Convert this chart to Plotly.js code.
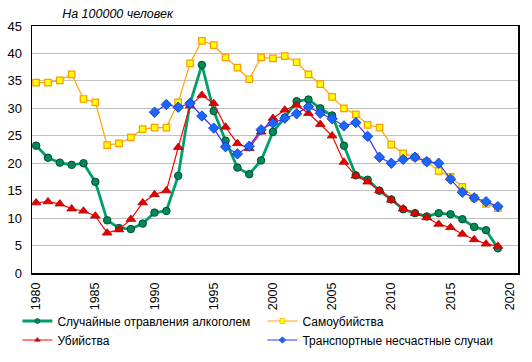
<!DOCTYPE html>
<html>
<head>
<meta charset="utf-8">
<script src="https://cdn.plot.ly/plotly-3.0.1.min.js"></script>
<style>html,body{margin:0;padding:0;background:#fff;}#chart{width:532px;height:362px;}</style>
</head>
<body>
<div id="chart"></div>
<script>
const yearsAll = [1980,1981,1982,1983,1984,1985,1986,1987,1988,1989,1990,1991,1992,1993,1994,1995,1996,1997,1998,1999,2000,2001,2002,2003,2004,2005,2006,2007,2008,2009,2010,2011,2012,2013,2014,2015,2016,2017,2018,2019];
const yearsTransport = [1990,1991,1992,1993,1994,1995,1996,1997,1998,1999,2000,2001,2002,2003,2004,2005,2006,2007,2008,2009,2010,2011,2012,2013,2014,2015,2016,2017,2018,2019];
const alcohol = [23.2,21.0,20.1,19.7,20.0,16.6,9.6,8.2,8.0,9.0,11.0,11.3,17.7,30.9,37.9,29.5,24.1,19.2,18.0,20.5,25.7,28.3,31.3,31.6,30.0,28.7,23.2,17.8,17.0,15.0,13.4,11.6,10.9,10.3,10.9,10.7,9.8,8.4,7.8,4.5];
const suicide = [34.7,34.7,35.1,36.2,31.7,31.1,23.3,23.6,24.7,26.2,26.5,26.5,31.1,38.2,42.3,41.5,39.3,37.4,35.3,39.3,39.1,39.5,38.4,36.2,34.4,32.1,30.0,28.9,27.0,26.5,23.4,21.8,21.1,20.3,18.6,17.5,15.7,13.7,12.6,11.8];
const homicide = [12.8,13.0,12.6,11.7,11.3,10.4,7.3,7.9,9.8,12.8,14.3,15.0,22.9,30.5,32.4,30.9,26.6,23.6,22.7,25.7,28.2,29.7,30.6,29.1,27.1,25.0,20.2,17.7,16.6,15.0,13.3,11.7,10.9,10.1,8.9,8.3,7.1,6.1,5.3,4.9];
const transport = [29.3,30.7,30.2,30.9,28.6,26.4,23.0,21.7,23.1,26.1,27.3,28.2,29.0,30.3,29.1,28.1,26.8,27.4,24.9,21.1,20.0,20.7,21.1,20.3,20.0,17.1,14.7,13.7,13.0,12.1];
const names = ['Случайные отравления алкоголем','Самоубийства','Убийства','Транспортные несчастные случаи'];
const tickYears = [1980,1985,1990,1995,2000,2005,2010,2015,2020];

const styles = [
  {line: {color: '#009e6a', width: 2.8}, marker: {symbol: 'circle', size: 7.5, color: '#008a55', line: {color: '#004d2e', width: 1}}},
  {line: {color: '#ffa500', width: 1.2}, marker: {symbol: 'square', size: 6.5, color: '#ffff00', line: {color: '#ff9900', width: 1.2}}},
  {line: {color: '#ff0000', width: 1.2}, marker: {symbol: 'triangle-up', size: 8.5, color: '#e60000', line: {color: '#b00000', width: 0.8}}},
  {line: {color: '#3333ff', width: 1.2}, marker: {symbol: 'diamond', size: 8, color: '#1a66ff', line: {color: '#0033cc', width: 0.8}}}
];
const xs = [yearsAll, yearsAll, yearsAll, yearsTransport];
const ys = [alcohol, suicide, homicide, transport];

const traces = [];
for (let i = 0; i < 4; i++) {
  traces.push({x: xs[i], y: ys[i], name: names[i], type: 'scatter', mode: 'lines+markers',
    line: styles[i].line, marker: styles[i].marker, showlegend: false});
}
// legend entries with small markers
for (let i = 0; i < 4; i++) {
  const m = JSON.parse(JSON.stringify(styles[i].marker));
  m.size = 5;
  m.line.width = 0.6;
  traces.push({x: [null], y: [null], name: names[i], type: 'scatter', mode: 'lines+markers',
    line: styles[i].line, marker: m, showlegend: true});
}

const layout = {
  width: 532, height: 362,
  margin: {l: 32, r: 14, t: 26, b: 89, pad: 0, autoexpand: false},
  paper_bgcolor: '#fff', plot_bgcolor: '#fff',
  font: {family: 'Liberation Sans, Arial, sans-serif', size: 12, color: '#000'},
  title: {text: '<i>На 100000 человек</i>', x: 0.062, xref: 'paper', xanchor: 'left',
          y: 0.962, yref: 'container', yanchor: 'middle',
          font: {family: 'Liberation Sans, Arial, sans-serif', size: 12.5, color: '#000'}},
  xaxis: {range: [1979.65, 2020.7], tickmode: 'array', tickvals: tickYears, ticktext: tickYears.map(String),
          tickangle: -90, showgrid: false, zeroline: false, showline: true, linecolor: '#000', linewidth: 1.5,
          mirror: true, ticks: 'outside', ticklen: 3, tickcolor: '#fff', tickfont: {size: 12.5}, automargin: false},
  yaxis: {range: [0, 45], dtick: 5, showgrid: true, gridcolor: '#c0c0c0', gridwidth: 1,
          zeroline: false, showline: true, linecolor: '#000', linewidth: 1.5, mirror: true,
          ticks: '', tickfont: {size: 13}, ticklabelstandoff: 6, automargin: false},
  showlegend: true,
  legend: {orientation: 'h', x: -0.03, xanchor: 'left', y: -0.33, yanchor: 'bottom',
           entrywidth: 200, entrywidthmode: 'pixels', traceorder: 'normal',
           font: {size: 12}, itemwidth: 30, tracegroupgap: 0, bgcolor: 'rgba(0,0,0,0)'}
};

Plotly.newPlot('chart', traces, layout, {displayModeBar: false, staticPlot: true});
</script>
</body>
</html>
